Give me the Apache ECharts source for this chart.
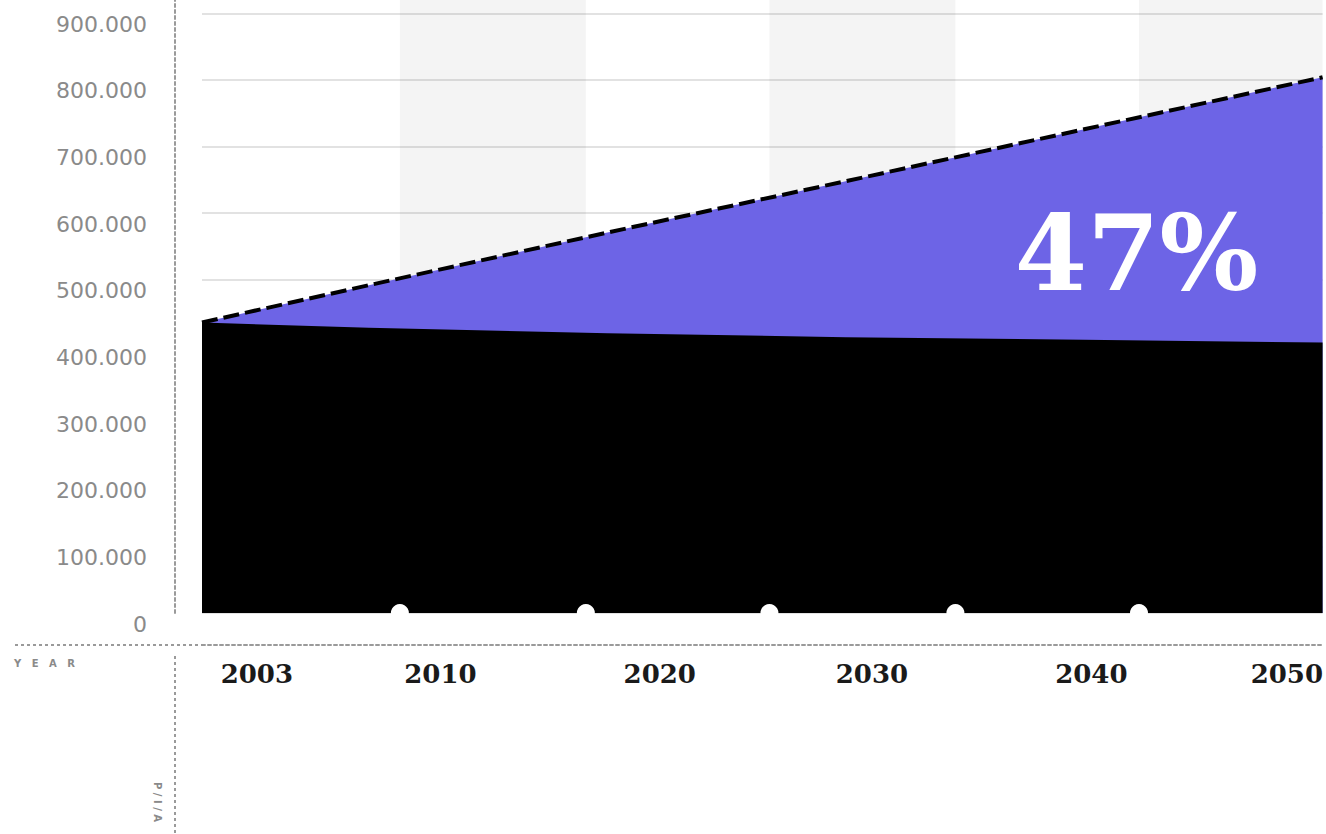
<!DOCTYPE html>
<html>
<head>
<meta charset="utf-8">
<style>
  html, body { margin: 0; padding: 0; background: #ffffff; }
  #chart { width: 1326px; height: 834px; }
</style>
<script src="https://cdn.jsdelivr.net/npm/echarts@6/dist/echarts.min.js"></script>
</head>
<body>
<div id="chart"></div>
<script>
// ---- data ----
const years = [2003, 2010, 2020, 2030, 2040, 2050];
const baseValues = [436000, 428000, 420000, 414000, 410000, 406000];
const totalValues = [436000, 492000, 571000, 648000, 726000, 804000];
const xTickLabels = ['2003', '2010', '2020', '2030', '2040', '2050'];
const xTickAt = [2005.3, 2013.0, 2022.2, 2031.1, 2040.3, 2048.5];
const bandEdges = [2011.3, 2019.1, 2026.8, 2034.6, 2042.3, 2050];
const shareLabel = '47%';
const shareAt = [2042.2, 540000];
const yAxisName = 'YEAR';
const sideNote = 'P/I/A';

function fmtThousands(v) {
  return String(Math.round(v)).replace(/\B(?=(\d{3})+(?!\d))/g, '.');
}

const baseData = years.map((y, i) => [y, baseValues[i]]);
const totalData = years.map((y, i) => [y, totalValues[i]]);
const dotData = bandEdges.slice(0, -1).map(e => [e, 0]);
const stripes = [];
for (let i = 0; i + 1 < bandEdges.length; i += 2) {
  stripes.push([{ xAxis: bandEdges[i] }, { xAxis: bandEdges[i + 1] }]);
}

const chart = echarts.init(document.getElementById('chart'), null, { renderer: 'svg' });
chart.setOption({
  animation: false,
  backgroundColor: '#ffffff',
  grid: { left: 202, right: 0, top: 0, bottom: 221, containLabel: false },
  xAxis: {
    type: 'value',
    min: 2003,
    max: 2050,
    offset: 32,
    axisLine: { show: true, onZero: false, lineStyle: { color: '#9a9a9a', width: 2, type: [3, 3] } },
    axisTick: { show: false },
    splitLine: { show: false },
    axisLabel: {
      customValues: xTickAt,
      margin: 16,
      fontFamily: 'DejaVu Serif',
      fontWeight: 'bold',
      fontSize: 26,
      color: '#1a1a1a',
      formatter: function (v) {
        let best = 0;
        for (let i = 1; i < xTickAt.length; i++) {
          if (Math.abs(xTickAt[i] - v) < Math.abs(xTickAt[best] - v)) best = i;
        }
        return xTickLabels[best];
      }
    }
  },
  yAxis: {
    type: 'value',
    min: 0,
    max: 920000,
    interval: 100000,
    offset: 27,
    axisLine: { show: true, onZero: false, lineStyle: { color: '#9a9a9a', width: 2, type: [3, 3] } },
    axisTick: { show: false },
    splitLine: { show: true, showMaxLine: false, lineStyle: { color: '#e2e2e2', width: 2 } },
    axisLabel: {
      showMaxLabel: false,
      margin: 28,
      verticalAlign: 'top',
      fontFamily: 'DejaVu Sans',
      fontSize: 22,
      color: '#8a8a8a',
      formatter: fmtThousands
    }
  },
  series: [
    {
      type: 'scatter',
      z: 1,
      data: [],
      silent: true,
      markArea: {
        silent: true,
        itemStyle: { color: 'rgba(0,0,0,0.045)' },
        data: stripes
      }
    },
    {
      type: 'line',
      z: 3,
      data: totalData,
      showSymbol: false,
      lineStyle: { color: '#000000', width: 4, type: [16, 6] },
      areaStyle: { color: '#6d64e6', opacity: 1 },
      markPoint: {
        symbol: 'circle',
        symbolSize: 1,
        itemStyle: { color: 'rgba(0,0,0,0)' },
        label: {
          show: true,
          formatter: shareLabel,
          color: '#ffffff',
          fontFamily: 'DejaVu Serif',
          fontWeight: 'bold',
          fontSize: 104,
          position: 'inside'
        },
        data: [{ coord: shareAt }]
      }
    },
    {
      type: 'line',
      z: 4,
      data: baseData,
      showSymbol: false,
      lineStyle: { width: 0 },
      areaStyle: { color: '#000000', opacity: 1 }
    },
    {
      type: 'scatter',
      z: 6,
      data: dotData,
      symbol: 'circle',
      symbolSize: 18,
      itemStyle: { color: '#ffffff', opacity: 1 }
    }
  ],
  graphic: [
    {
      type: 'line',
      shape: { x1: 15, y1: 645, x2: 202, y2: 645 },
      style: { stroke: '#9a9a9a', lineWidth: 2, lineDash: [3, 3] }
    },
    {
      type: 'line',
      shape: { x1: 175, y1: 656, x2: 175, y2: 834 },
      style: { stroke: '#9a9a9a', lineWidth: 2, lineDash: [3, 3] }
    },
    {
      type: 'text',
      left: 14,
      top: 658,
      style: { text: yAxisName.split('').join('   '), fill: '#8a8a8a', font: 'bold 10px DejaVu Sans' }
    },
    {
      type: 'text',
      x: 162,
      y: 782,
      rotation: -Math.PI / 2,
      style: { text: sideNote.split('').join(' '), fill: '#8a8a8a', font: 'bold 10px DejaVu Sans', textAlign: 'left' }
    }
  ]
});
</script>
</body>
</html>
